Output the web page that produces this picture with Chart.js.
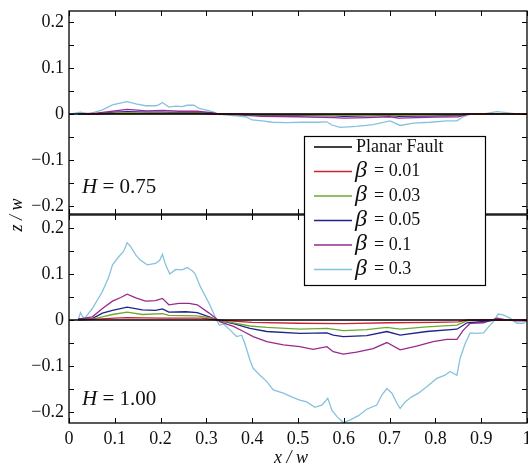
<!DOCTYPE html>
<html><head><meta charset="utf-8">
<script src="https://cdn.jsdelivr.net/npm/chart.js@4.4.0/dist/chart.umd.min.js"></script>
<style>
html,body{margin:0;padding:0;background:#fff;}
#wrap{position:relative;width:528px;height:471px;overflow:hidden;}
#wrap canvas{position:absolute;left:0;top:0;}
</style></head><body>
<div id="wrap"><canvas id="cTop" width="528" height="471"></canvas><canvas id="cBot" width="528" height="471"></canvas></div>
<script>
// ---------- data ----------
const seriesLabels = ['Planar Fault', 'β = 0.01', 'β = 0.03', 'β = 0.05', 'β = 0.1', 'β = 0.3'];
const seriesColors = ['#000000', '#cc2233', '#6aaa2e', '#22228c', '#982a8e', '#86c2de'];
const panelLabels = ['H = 0.75', 'H = 1.00'];

const xTickVals = [0, 0.1, 0.2, 0.3, 0.4, 0.5, 0.6, 0.7, 0.8, 0.9, 1];
const yTickVals = [-0.2, -0.1, 0, 0.1, 0.2];
const yTickMarks = [-0.2, -0.15, -0.1, -0.05, 0, 0.05, 0.1, 0.15, 0.2];

const planarX = [0, 1];
const planarY = [0, 0];

// H = 0.75 panel
const topX = [0.02,0.06,0.1,0.127,0.17,0.204,0.24,0.28,0.31,0.327,0.37,0.42,0.5,0.58,0.6,0.65,0.7,0.72,0.8,0.85,0.87,0.92,1.0];
const top01Y = [0,0,0.001,0.001,0.001,0.001,0.001,0.001,0,0,0,-0.001,-0.001,-0.001,-0.001,-0.001,-0.001,-0.001,-0.001,-0.001,0,0,0];
const top03Y = [0,0.001,0.002,0.003,0.002,0.002,0.002,0.002,0.001,0,-0.001,-0.002,-0.002,-0.003,-0.003,-0.003,-0.002,-0.003,-0.002,-0.002,0,0,0];
const top05Y = [0,0.001,0.004,0.005,0.004,0.004,0.003,0.003,0.002,0,-0.001,-0.003,-0.003,-0.004,-0.005,-0.004,-0.003,-0.005,-0.004,-0.003,-0.001,0,0];
const top10Y = [0,0.002,0.007,0.010,0.007,0.008,0.006,0.006,0.003,0,-0.002,-0.005,-0.006,-0.008,-0.009,-0.008,-0.006,-0.009,-0.007,-0.006,-0.001,0,0];
const top30X = [0.004,0.025,0.044,0.073,0.095,0.109,0.127,0.146,0.167,0.189,0.196,0.204,0.218,0.233,0.247,0.258,0.273,0.284,0.298,0.313,0.327,0.364,0.386,0.4,0.422,0.444,0.473,0.512,0.541,0.563,0.574,0.592,0.628,0.664,0.701,0.723,0.752,0.788,0.825,0.847,0.861,0.876,0.905,0.934,0.955,0.985,1.0];
const top30Y = [0,0.004,0,0.009,0.020,0.023,0.027,0.022,0.018,0.018,0.020,0.025,0.015,0.017,0.016,0.019,0.019,0.012,0.009,0.005,-0.001,-0.004,-0.006,-0.013,-0.015,-0.018,-0.019,-0.018,-0.018,-0.017,-0.024,-0.029,-0.027,-0.023,-0.015,-0.025,-0.020,-0.018,-0.015,-0.015,-0.006,-0.001,0,0.005,0.003,-0.001,0];

// H = 1.00 panel
const bot01X = [0.02,0.06,0.1,0.127,0.2,0.29,0.324,0.4,0.5,0.6,0.7,0.8,0.85,0.87,0.92,1.0];
const bot01Y = [0,0.002,0.004,0.005,0.004,0.004,0,-0.005,-0.007,-0.008,-0.006,-0.005,-0.004,0,0,0];
const bot03X = [0.02,0.051,0.073,0.095,0.127,0.16,0.204,0.218,0.28,0.306,0.324,0.359,0.395,0.432,0.504,0.563,0.599,0.65,0.694,0.723,0.781,0.847,0.869,0.905,0.95,1.0];
const bot03Y = [0.001,0.002,0.007,0.012,0.017,0.012,0.014,0.010,0.009,0.005,0,-0.006,-0.013,-0.016,-0.020,-0.018,-0.023,-0.021,-0.016,-0.020,-0.015,-0.011,-0.002,0,0,0];
const bot05X = [0.02,0.051,0.073,0.095,0.127,0.16,0.189,0.204,0.218,0.255,0.28,0.306,0.324,0.359,0.395,0.432,0.504,0.563,0.577,0.599,0.65,0.694,0.723,0.781,0.847,0.869,0.905,0.935,0.97,1.0];
const bot05Y = [0.002,0.003,0.015,0.021,0.028,0.022,0.021,0.024,0.017,0.018,0.016,0.007,0,-0.008,-0.018,-0.025,-0.029,-0.028,-0.033,-0.036,-0.034,-0.025,-0.033,-0.025,-0.020,-0.006,-0.003,0,-0.001,-0.001];
const bot10X = [0.02,0.051,0.073,0.095,0.113,0.127,0.146,0.167,0.189,0.204,0.218,0.24,0.262,0.28,0.306,0.324,0.33,0.359,0.381,0.402,0.432,0.468,0.504,0.533,0.563,0.577,0.599,0.628,0.664,0.694,0.723,0.759,0.795,0.825,0.847,0.861,0.876,0.905,0.935,0.955,0.978,1.0];
const bot10Y = [0.002,0.007,0.025,0.041,0.049,0.056,0.048,0.041,0.042,0.047,0.033,0.036,0.036,0.033,0.015,0.001,-0.004,-0.014,-0.025,-0.036,-0.047,-0.054,-0.058,-0.064,-0.058,-0.069,-0.074,-0.070,-0.062,-0.049,-0.065,-0.057,-0.047,-0.042,-0.042,-0.022,-0.007,-0.006,0.004,0,-0.002,-0.002];
const bot30X = [0.02,0.025,0.033,0.051,0.073,0.087,0.095,0.109,0.119,0.127,0.135,0.146,0.156,0.171,0.189,0.198,0.204,0.211,0.22,0.233,0.247,0.258,0.269,0.275,0.287,0.306,0.32,0.328,0.338,0.352,0.366,0.377,0.384,0.395,0.402,0.417,0.432,0.446,0.468,0.486,0.504,0.519,0.537,0.552,0.565,0.574,0.585,0.599,0.614,0.632,0.65,0.672,0.683,0.694,0.705,0.716,0.723,0.734,0.748,0.763,0.781,0.803,0.821,0.832,0.847,0.854,0.865,0.876,0.89,0.905,0.916,0.926,0.937,0.948,0.963,0.978,0.992,1.0];
const bot30Y = [0,0.016,0.002,0.025,0.062,0.094,0.12,0.138,0.149,0.168,0.159,0.141,0.130,0.12,0.123,0.130,0.143,0.12,0.1,0.110,0.109,0.114,0.107,0.101,0.072,0.036,0.005,-0.011,-0.009,-0.022,-0.036,-0.033,-0.051,-0.087,-0.105,-0.12,-0.134,-0.152,-0.159,-0.167,-0.174,-0.178,-0.19,-0.185,-0.170,-0.196,-0.21,-0.223,-0.217,-0.208,-0.194,-0.185,-0.163,-0.149,-0.159,-0.181,-0.192,-0.178,-0.167,-0.159,-0.145,-0.127,-0.12,-0.112,-0.12,-0.083,-0.051,-0.028,-0.029,-0.028,-0.015,-0.004,0.013,0.011,0.004,-0.007,-0.007,-0.001];

// ---------- helpers ----------
const pts = (xs, ys) => xs.map((x, i) => ({x: x, y: ys[i]}));
function makeDatasets(list) {
  return list.map((p, i) => ({
    label: seriesLabels[i],
    data: pts(p[0], p[1]),
    borderColor: seriesColors[i],
    backgroundColor: seriesColors[i],
    borderWidth: i === 0 ? 1.6 : 1.3,
    pointRadius: 0,
    tension: 0,
    fill: false
  }));
}
const SERIF = '"Liberation Serif", "Times New Roman", serif';
const fmtY = v => v === 0 ? '0' : (v < 0 ? '\u2212' : '') + Math.abs(v).toFixed(1);
const fmtX = v => (v === 0 ? '0' : v === 1 ? '1' : v.toFixed(1));

const framePlugin = {
  id: 'frame',
  afterDatasetsDraw(chart) {
    const ca = chart.chartArea, ctx = chart.ctx;
    const xs = chart.scales.x, ys = chart.scales.y;
    ctx.save();
    ctx.strokeStyle = '#000';
    ctx.lineWidth = 1.3;
    ctx.strokeRect(ca.left, ca.top, ca.right - ca.left, ca.bottom - ca.top);
    ctx.beginPath();
    xTickVals.forEach(v => {
      const px = Math.round(xs.getPixelForValue(v)) + 0.5;
      ctx.moveTo(px, ca.top); ctx.lineTo(px, ca.top + 5);
      ctx.moveTo(px, ca.bottom); ctx.lineTo(px, ca.bottom - 5);
    });
    yTickMarks.forEach(v => {
      const py = Math.round(ys.getPixelForValue(v)) + 0.5;
      ctx.moveTo(ca.left, py); ctx.lineTo(ca.left + 5, py);
      ctx.moveTo(ca.right, py); ctx.lineTo(ca.right - 5, py);
    });
    ctx.lineWidth = 1;
    ctx.stroke();
    // panel label
    const lbl = chart.options.plugins.frame.panelLabel;
    const parts = lbl.split(' ');
    ctx.fillStyle = '#111';
    ctx.textBaseline = 'alphabetic';
    ctx.textAlign = 'left';
    ctx.font = 'italic 21px ' + SERIF;
    const lx = 82, ly = chart.options.plugins.frame.labelBaseline;
    ctx.fillText(parts[0], lx, ly);
    let w = ctx.measureText(parts[0]).width;
    ctx.font = '21px ' + SERIF;
    ctx.fillText(' ' + parts.slice(1).join(' '), lx + w, ly);
    ctx.restore();
  }
};

const legendPlugin = {
  id: 'boxlegend',
  afterDraw(chart) {
    const ctx = chart.ctx;
    ctx.save();
    // axis titles
    ctx.fillStyle = '#111';
    ctx.font = 'italic 18px ' + SERIF;
    ctx.textAlign = 'center';
    ctx.textBaseline = 'middle';
    ctx.fillText('x / w', 291, 458);
    ctx.save();
    ctx.translate(17, 215);
    ctx.rotate(-Math.PI / 2);
    ctx.fillText('z / w', 0, 0);
    ctx.restore();
    // legend box
    const bx = 304, by = 136, bw = 181, bh = 149;
    ctx.fillStyle = '#fff';
    ctx.fillRect(bx, by, bw, bh);
    ctx.strokeStyle = '#000';
    ctx.lineWidth = 1.2;
    ctx.strokeRect(bx + 0.5, by + 0.5, bw, bh);
    chart.data.datasets.forEach((ds, i) => {
      const y = 147 + i * 24.5;
      ctx.strokeStyle = ds.borderColor;
      ctx.lineWidth = 1.3;
      ctx.beginPath(); ctx.moveTo(314, y); ctx.lineTo(352, y); ctx.stroke();
      ctx.fillStyle = '#111';
      ctx.textAlign = 'left';
      ctx.textBaseline = 'middle';
      if (ds.label.startsWith('β')) {
        ctx.font = 'italic 24px ' + SERIF;
        ctx.fillText('β', 355, y - 1);
        ctx.font = '18px ' + SERIF;
        ctx.fillText(ds.label.slice(2), 374, y);
      } else {
        ctx.font = '18px ' + SERIF;
        ctx.fillText(ds.label, 356, y);
      }
    });
    ctx.restore();
  }
};

function makeChart(id, datasets, o) {
  return new Chart(document.getElementById(id), {
    type: 'line',
    data: {datasets: datasets},
    plugins: [framePlugin].concat(o.extra || []),
    options: {
      responsive: false,
      animation: false,
      events: [],
      layout: {padding: {top: o.padTop, bottom: o.padBottom, left: 0, right: 1}},
      plugins: {
        legend: {display: false},
        tooltip: {enabled: false},
        frame: {panelLabel: o.panelLabel, labelBaseline: o.labelBaseline}
      },
      scales: {
        x: {
          type: 'linear', min: 0, max: 1,
          display: o.showX,
          afterFit: s => { s.height = o.showX ? 48 : 0; s.paddingLeft = 0; s.paddingRight = 0; },
          afterBuildTicks: s => { s.ticks = xTickVals.map(v => ({value: v})); },
          grid: {display: false, drawTicks: false},
          border: {display: false},
          ticks: {padding: 5, autoSkip: false, maxRotation: 0, color: '#111',
                  font: {family: SERIF, size: 18}, callback: v => fmtX(v)}
        },
        y: {
          type: 'linear', min: o.yMin, max: o.yMax,
          afterFit: s => { s.width = 69; s.paddingTop = 0; s.paddingBottom = 0; },
          afterBuildTicks: s => { s.ticks = yTickVals.map(v => ({value: v})); },
          grid: {display: false, drawTicks: false},
          border: {display: false},
          ticks: {padding: 5, autoSkip: false, color: '#111',
                  font: {family: SERIF, size: 18}, callback: v => fmtY(v)}
        }
      }
    }
  });
}

makeChart('cTop', makeDatasets([
  [planarX, planarY], [topX, top01Y], [topX, top03Y], [topX, top05Y], [topX, top10Y], [top30X, top30Y]
]), {padTop: 11, padBottom: 257, yMin: -0.2179, yMax: 0.2244, showX: false,
     panelLabel: panelLabels[0], labelBaseline: 193});

makeChart('cBot', makeDatasets([
  [planarX, planarY], [bot01X, bot01Y], [bot03X, bot03Y], [bot05X, bot05Y], [bot10X, bot10Y], [bot30X, bot30Y]
]), {padTop: 215, padBottom: 0, yMin: -0.2239, yMax: 0.2283, showX: true,
     panelLabel: panelLabels[1], labelBaseline: 405, extra: [legendPlugin]});
</script>
</body></html>
